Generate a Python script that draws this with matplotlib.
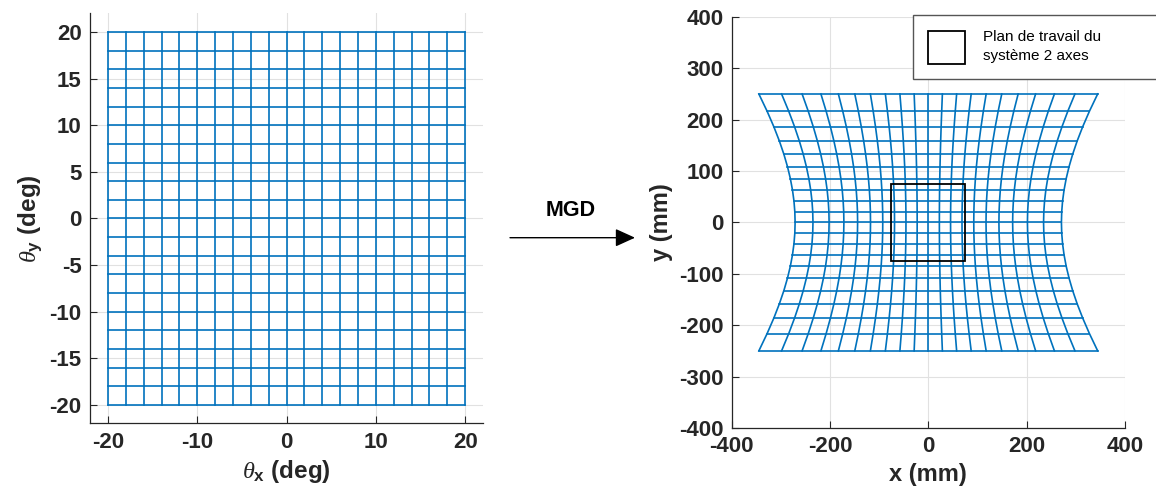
import numpy as np
import matplotlib
matplotlib.use("Agg")
import matplotlib.pyplot as plt
import matplotlib.patches as mpatches

plt.rcParams["font.family"] = ["Liberation Sans", "DejaVu Sans"]
plt.rcParams["axes.unicode_minus"] = False
plt.rcParams["mathtext.fontset"] = "custom"
plt.rcParams["mathtext.rm"] = "Liberation Sans"
plt.rcParams["mathtext.bf"] = "Liberation Sans:bold"
plt.rcParams["mathtext.it"] = "Liberation Serif:italic"

# Angles du miroir (deg), pas de 2 deg
theta_x = [-20, -18, -16, -14, -12, -10, -8, -6, -4, -2, 0,
           2, 4, 6, 8, 10, 12, 14, 16, 18, 20]
theta_y = [-20, -18, -16, -14, -12, -10, -8, -6, -4, -2, 0,
           2, 4, 6, 8, 10, 12, 14, 16, 18, 20]

# Parametres du MGD (mm)
dist_y = 298.0   # distance miroir y -> plan
dist_x = 288.0   # distance miroir x -> plan
ecart = 35.0     # ecart entre les deux miroirs

# Plan de travail du systeme 2 axes (mm)
plan_x = [-75, 75]
plan_y = [-75, 75]

blue = "#0072BD"
dark = "#262626"

def mgd(tx, ty):
    # angle optique = 2 x angle mecanique
    ax_ = np.radians(2 * np.asarray(tx, float))
    ay_ = np.radians(2 * np.asarray(ty, float))
    y = dist_y * np.tan(ay_)
    x = (ecart + dist_x / np.cos(ay_)) * np.tan(ax_)
    return x, y

def style(ax):
    ax.spines["top"].set_visible(False)
    ax.spines["right"].set_visible(False)
    for s in ("left", "bottom"):
        ax.spines[s].set_color(dark)
        ax.spines[s].set_linewidth(0.9)
    ax.tick_params(direction="in", length=5, width=0.8, colors=dark,
                   labelsize=16, pad=6)
    for lab in ax.get_xticklabels() + ax.get_yticklabels():
        lab.set_fontweight("bold")
    ax.grid(True, color="#e1e1e1", linewidth=0.8)
    ax.set_axisbelow(True)

fig = plt.figure(figsize=(11.56, 4.97), dpi=100)

# --- espace articulaire ---
ax1 = fig.add_axes([0.0779, 0.148, 0.340, 0.825])
TX, TY = np.meshgrid(theta_x, theta_y)
for j in range(len(theta_x)):
    ax1.plot(TX[:, j], TY[:, j], color=blue, lw=1.2)
for i in range(len(theta_y)):
    ax1.plot(TX[i, :], TY[i, :], color=blue, lw=1.2)
ax1.set_xlim(-22, 22)
ax1.set_ylim(-22, 22)
ax1.set_xticks([-20, -10, 0, 10, 20])
ax1.set_yticks([-20, -15, -10, -5, 0, 5, 10, 15, 20])
style(ax1)
ax1.set_xlabel(r"$\theta_\mathbf{x}$ (deg)", fontsize=17.5, fontweight="bold",
               color=dark, labelpad=4)
ax1.set_ylabel(r"$\theta_\mathbf{y}$ (deg)", fontsize=17.5, fontweight="bold",
               color=dark, labelpad=4)

# --- espace operationnel ---
ax2 = fig.add_axes([0.633, 0.139, 0.340, 0.827])
X, Y = mgd(TX, TY)
for j in range(len(theta_x)):
    ax2.plot(X[:, j], Y[:, j], color=blue, lw=1.2)
for i in range(len(theta_y)):
    ax2.plot(X[i, :], Y[i, :], color=blue, lw=1.2)
rect = mpatches.Rectangle((plan_x[0], plan_y[0]), plan_x[1] - plan_x[0],
                          plan_y[1] - plan_y[0], fill=False,
                          edgecolor="black", lw=1.3, zorder=5)
ax2.add_patch(rect)
ax2.set_xlim(-400, 400)
ax2.set_ylim(-400, 400)
ax2.set_xticks([-400, -200, 0, 200, 400])
ax2.set_yticks([-400, -300, -200, -100, 0, 100, 200, 300, 400])
style(ax2)
ax2.set_xlabel("x (mm)", fontsize=17, fontweight="bold", color=dark, labelpad=4)
ax2.set_ylabel("y (mm)", fontsize=17, fontweight="bold", color=dark, labelpad=4)

handle = mpatches.Patch(facecolor="white", edgecolor="black", lw=1.3,
                        label="Plan de travail du\nsystème 2 axes")
leg = ax2.legend(handles=[handle], loc="upper left",
                 bbox_to_anchor=(0.46, 0.83, 0.66, 0.175), mode="expand",
                 borderaxespad=0, fontsize=11, handlelength=2.42,
                 handleheight=2.94, handletextpad=1.18, borderpad=1.0,
                 fancybox=False, framealpha=1, edgecolor="#555555")
leg.get_frame().set_linewidth(1.0)
for t in leg.get_texts():
    t.set_linespacing(1.4)

# fleche MGD entre les deux graphes
fig.patches.append(mpatches.FancyArrowPatch(
    (510 / 1156, 1 - 237.7 / 497), (635 / 1156, 1 - 237.7 / 497),
    transform=fig.transFigure, arrowstyle="-|>,head_length=1.1,head_width=0.5",
    mutation_scale=11, shrinkA=0, shrinkB=0, color="black", lw=1.0))
fig.text(571 / 1156, 1 - 210 / 497, "MGD", ha="center", va="center",
         fontsize=15.5, fontweight="bold", color="black")

fig.savefig("out.png", dpi=100)
